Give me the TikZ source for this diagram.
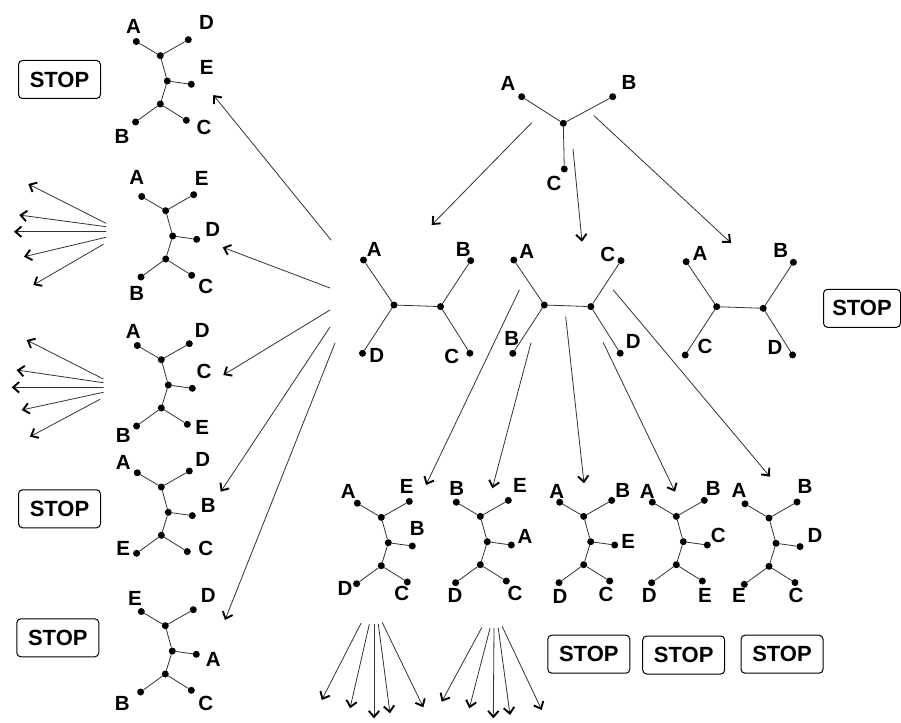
\documentclass[tikz,border=0pt]{standalone}
\usepackage{fontspec}
\setmainfont{Liberation Sans}
\usetikzlibrary{arrows.meta,positioning}
\newcommand{\cattree}[3]{%
\node[dot] (#1m) at (#2,#3) {}; \node[dot] (#1t) at ({#2-7},{#3-25.3}) {}; \node[dot] (#1w) at ({#2-7},{#3+23}) {};
\node[dot] (#1a) at ({#2-31},{#3-39.5}) {}; \node[dot] (#1b) at ({#2+21},{#3-41.3}) {}; \node[dot] (#1c) at ({#2+24},{#3+3.3}) {};
\node[dot] (#1d) at ({#2-31.7},{#3+41}) {}; \node[dot] (#1e) at ({#2+19},{#3+39.3}) {};
\draw[edge] (#1a) -- (#1t) -- (#1b) (#1t) -- (#1m) -- (#1c) (#1m) -- (#1w) -- (#1d) (#1w) -- (#1e);}
\newcommand{\quartet}[3]{%
\node[dot] (#1l) at (#2,#3) {}; \node[dot] (#1r) at ({#2+46.5},{#3+1.6}) {};
\node[dot] (#1a) at ({#2-30.5},{#3-45}) {}; \node[dot] (#1b) at ({#2+76.7},{#3-44.4}) {};
\node[dot] (#1c) at ({#2-31.5},{#3+48.3}) {}; \node[dot] (#1d) at ({#2+75.9},{#3+48.2}) {};
\draw[edge] (#1a) -- (#1l) -- (#1c) (#1l) -- (#1r) (#1b) -- (#1r) -- (#1d);}

\begin{document}
\begin{tikzpicture}[x=1pt,y=-1pt,>={Straight Barb[length=6pt,width=10.5pt,line width=1.9pt,color=black]},line cap=round,line join=round]
\useasboundingbox[fill=white] (0,0) rectangle (901,722);
\tikzset{dot/.style={circle,fill=black,inner sep=0pt,minimum size=7pt},edge/.style={draw=black!80,line width=0.8pt},arr/.style={draw=black!80,line width=0.8pt,->},lab/.style={inner sep=0pt,font=\fontsize{20.5}{20.5}\selectfont\bfseries},stopbox/.style={draw,rounded corners=4pt,line width=1pt,minimum width=82pt,minimum height=38pt,font=\fontsize{22}{22}\selectfont\bfseries}}
% top tree
\node[dot] (tm) at (563.3,123.3) {}; \node[dot] (ta) at (521.7,96.7) {}; \node[dot] (tb) at (612.7,96.7) {}; \node[dot] (tc) at (564.3,169) {};
\draw[edge] (ta) -- (tm) -- (tb) (tm) -- (tc);
\node[lab] (tA) at (508,83) {A}; \node[lab] (tB) at (629,82) {B}; \node[lab] (tC) at (554,183) {C};
% middle row
\quartet{ma}{394}{305} \quartet{mb}{544.3}{305} \quartet{mc}{716.7}{306.7}
\node[lab] (maA) at (374.3,249.3) {A}; \node[lab] (maB) at (463.3,249.3) {B}; \node[lab] (maD) at (376.7,355) {D}; \node[lab] (maC) at (451.7,356) {C};
\node[lab] (mbA) at (526.7,251.7) {A}; \node[lab] (mbC) at (607.7,254.3) {C}; \node[lab] (mbB) at (511.7,338.3) {B}; \node[lab] (mbD) at (633.3,341.7) {D};
\node[lab] (mcA) at (700,253.3) {A}; \node[lab] (mcB) at (780.7,250.7) {B}; \node[lab] (mcC) at (705,346.7) {C}; \node[lab] (mcD) at (775,347.3) {D};
% left column
\cattree{la}{167.3}{81} \cattree{lb}{172.7}{236} \cattree{lc}{168.3}{385} \cattree{ld}{168.3}{512.3} \cattree{le}{172.3}{651}
\node[lab] (laA) at (133.5,26.7) {A}; \node[lab] (laD) at (206.5,22) {D}; \node[lab] (laE) at (206.7,67) {E}; \node[lab] (laB) at (122,136.3) {B}; \node[lab] (laC) at (204,127.5) {C};
\node[lab] (lbA) at (136.7,177) {A}; \node[lab] (lbE) at (201.7,178.3) {E}; \node[lab] (lbD) at (212.7,229.3) {D}; \node[lab] (lbB) at (136.7,293.3) {B}; \node[lab] (lbC) at (205.7,286.5) {C};
\node[lab] (lcA) at (133.3,331.7) {A}; \node[lab] (lcD) at (202.3,330.7) {D}; \node[lab] (lcC) at (204,371.7) {C}; \node[lab] (lcB) at (123.3,435) {B}; \node[lab] (lcE) at (202.3,427) {E};
\node[lab] (ldA) at (123.3,462.7) {A}; \node[lab] (ldD) at (202.7,459.3) {D}; \node[lab] (ldB) at (208.3,505) {B}; \node[lab] (ldE) at (123.3,548.3) {E}; \node[lab] (ldC) at (205.7,548.3) {C};
\node[lab] (leE) at (135,598.3) {E}; \node[lab] (leD) at (208.3,595) {D}; \node[lab] (leA) at (213.3,659.3) {A}; \node[lab] (leB) at (122.3,703.3) {B}; \node[lab] (leC) at (205.7,703.3) {C};
% bottom row
\cattree{ba}{388.3}{542.7} \cattree{bb}{487.3}{541.7} \cattree{bc}{590.7}{541.7} \cattree{bd}{683.3}{541.7} \cattree{be}{776}{543.3}
\node[lab] (baA) at (348.3,491.7) {A}; \node[lab] (baE) at (406.7,486.7) {E}; \node[lab] (baB) at (417.3,528.3) {B}; \node[lab] (baD) at (345,588.3) {D}; \node[lab] (baC) at (401.7,593.3) {C};
\node[lab] (bbB) at (456.7,488.3) {B}; \node[lab] (bbE) at (520,485) {E}; \node[lab] (bbA) at (525,536) {A}; \node[lab] (bbD) at (455,595) {D}; \node[lab] (bbC) at (515,593.3) {C};
\node[lab] (bcA) at (556.7,491.7) {A}; \node[lab] (bcB) at (622.7,490) {B}; \node[lab] (bcE) at (628.3,541.7) {E}; \node[lab] (bcD) at (560,596.7) {D}; \node[lab] (bcC) at (606,594) {C};
\node[lab] (bdA) at (647.3,491.7) {A}; \node[lab] (bdB) at (713.3,488.3) {B}; \node[lab] (bdC) at (718.3,535) {C}; \node[lab] (bdD) at (649.3,595) {D}; \node[lab] (bdE) at (705,595) {E};
\node[lab] (beA) at (739,490) {A}; \node[lab] (beB) at (805,486) {B}; \node[lab] (beD) at (815,535) {D}; \node[lab] (beE) at (739,595) {E}; \node[lab] (beC) at (796,595) {C};
% stop boxes
\node[stopbox] (stopa) at (59.5,79.5) {STOP}; \node[stopbox] (stopb) at (59.5,508.8) {STOP}; \node[stopbox] (stopc) at (57.8,637.8) {STOP};
\node[stopbox,minimum width=77pt] (stopd) at (862,308.3) {STOP};
\node[stopbox] (stope) at (588.8,654.2) {STOP}; \node[stopbox] (stopf) at (683.7,655) {STOP}; \node[stopbox] (stopg) at (782,654.2) {STOP};
% arrows
\foreach \n/\sx/\sy/\ex/\ey in {t1/531.7/122.7/431.7/225, t2/573/149/582/241.7, t3/594/115.7/731/243,
  m1/519.3/290/426/485, m2/531/342.7/492.3/488.3, m3/565.7/316.7/584/483.3, m4/603.3/342.7/675/491.7, m5/613.3/290/770/476.7,
  k1/331/240/213.3/95, k2/330/288/222.7/247.3, k3/330/310/223.3/375, k4/330/327/220.7/491.7, k5/335/343/225/620}
  {\coordinate (\n s) at (\sx,\sy); \coordinate (\n e) at (\ex,\ey); \draw[arr] (\n s) -- (\n e);}
\foreach \n/\sx/\sy/\ex/\ey in {f1/106/223.3/28.3/184, f2/106/226.7/19.3/215, f3/106/231.7/14/231.7, f4/106/237.3/24/256.7, f5/103.3/244.3/33.3/285,
  g1/103.3/379/26.7/340, g2/103.3/382.7/16.7/370, g3/103.3/387.3/11.7/387.3, g4/103.3/392.3/21.7/410, g5/100/399.3/30/436.7,
  h1/361/623.3/321.7/700, h2/369.3/624.3/350/708.3, h3/374/624.3/374/718.3, h4/378.3/624.3/390/713.3, h5/382.3/622.7/423.3/707.3,
  j1/481.7/627.7/441.7/701.7, j2/490/628.3/469.3/708.3, j3/494/628.3/493.3/718.3, j4/498.3/628.3/510/715, j5/502.3/626.7/541.7/710}
  {\coordinate (\n s) at (\sx,\sy); \coordinate (\n e) at (\ex,\ey); \draw[arr] (\n s) -- (\n e);}
\end{tikzpicture}
\end{document}
